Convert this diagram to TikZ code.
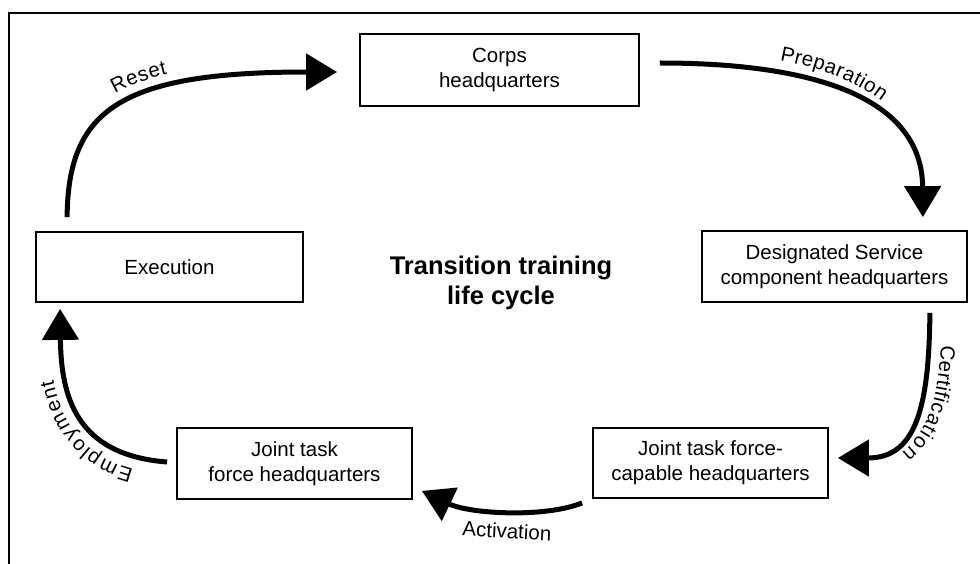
\documentclass[tikz,border=0pt]{standalone}
\usepackage{fontspec}
\setmainfont{Liberation Sans}
\usetikzlibrary{arrows.meta,calc,decorations.text}
\begin{document}
\begin{tikzpicture}[x=1pt,y=-1pt,
  stagebox/.style={draw, line width=1.8pt, align=center, inner sep=0pt,
    font=\fontsize{20.5}{25}\selectfont},
  flow/.style={line width=5pt, -{Triangle[length=31pt,width=36pt]}},
  lbl/.style={font=\fontsize{20.5}{25}\selectfont, inner sep=0pt},
  pathlabel/.style n args={3}{postaction={decorate, decoration={text along path,
    raise=#3, text align={left indent=#1},
    text={|\fontsize{20.5}{25}\selectfont|#2}}}}
]
\useasboundingbox (0,0) rectangle (980,564);

% outer frame (only its top and left edges fall inside the page)
\draw[line width=2.6pt] (9,600) -- (9,13) -- (1010,13);

% stages of the cycle
\node[stagebox, minimum width=279pt, minimum height=72pt] (corps) at (499.5,70) {Corps\\headquarters};
\node[stagebox, minimum width=267pt, minimum height=70pt] (exec) at (169.5,267) {Execution};
\node[stagebox, minimum width=265pt, minimum height=71pt] (desig) at (834.5,266.5) {Designated Service\\component headquarters};
\node[stagebox, minimum width=235pt, minimum height=70pt] (jtfc) at (710.5,463) {Joint task force-\\capable headquarters};
\node[stagebox, minimum width=235pt, minimum height=71pt] (jtf) at (294.5,463.5) {Joint task\\force headquarters};

% title in the middle
\node[font=\bfseries\fontsize{25.5}{30}\selectfont, align=center, inner sep=0pt] (title) at (501,283) {Transition training\\life cycle};

% transitions
\draw[flow, pathlabel={131pt}{Reset}{12pt}]
  ($(exec.north west)+(32,-14)$) .. controls (68,110) and (120,72) .. ($(corps.west)+(-22,2)$);
\draw[flow, pathlabel={118pt}{Preparation}{12pt}]
  ($(corps.east)+(20,-7)$) .. controls (820,63) and (922,100) .. ($(desig.north east)+(-45,-13)$);
\draw[flow, pathlabel={32pt}{Certification}{12pt}]
  ($(desig.south east)+(-38,10)$) .. controls (929,410) and (915,458) .. ($(jtfc.east)+(9,-5)$);
\draw[flow]
  ($(jtfc.south west)+(-10,4)$) .. controls (545,518) and (470,514) .. ($(jtf.south east)+(9,-9)$);
\node[lbl, rotate=-3] (act) at (507,531) {Activation};
\draw[flow, pathlabel={30pt}{Employment}{13pt}]
  ($(jtf.west)+(-9,-1.5)$) .. controls (75,455) and (61,395) .. ($(exec.south west)+(25,6)$);
\end{tikzpicture}
\end{document}
